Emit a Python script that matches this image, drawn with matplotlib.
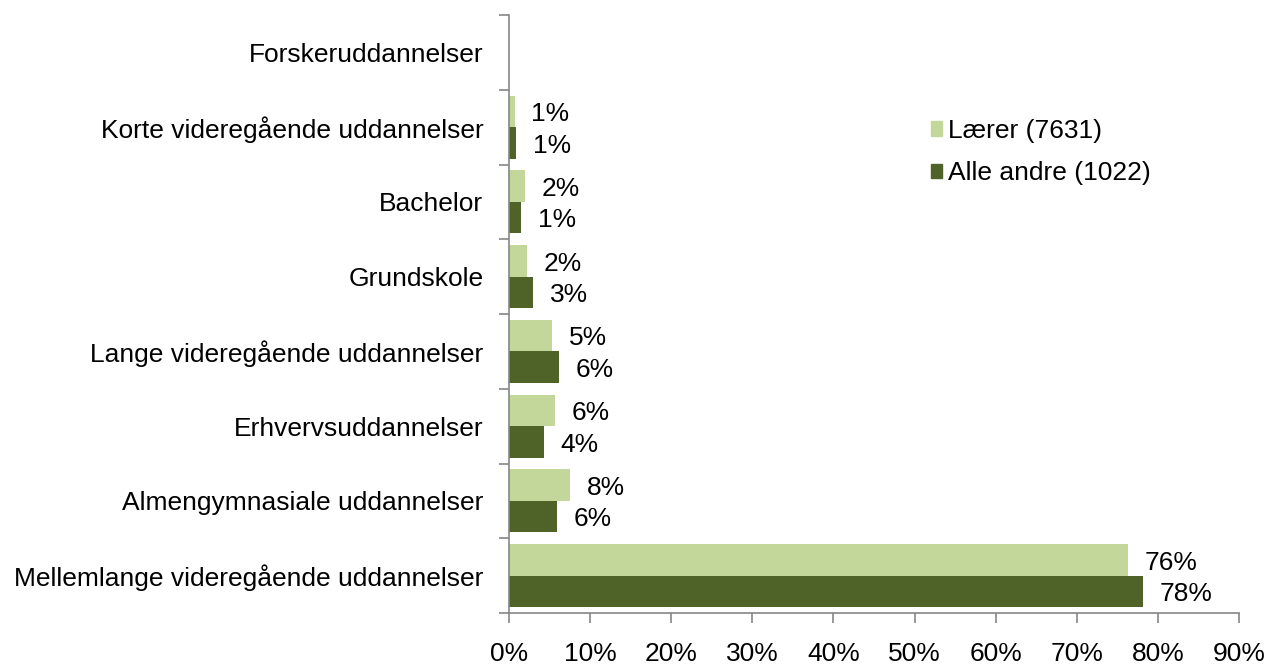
import matplotlib
matplotlib.use("Agg")
import matplotlib.pyplot as plt
import numpy as np
from matplotlib.patches import Patch

plt.rcParams['font.family'] = ['Liberation Sans', 'DejaVu Sans']

categories = ["Mellemlange videregående uddannelser",
              "Almengymnasiale uddannelser",
              "Erhvervsuddannelser",
              "Lange videregående uddannelser",
              "Grundskole",
              "Bachelor",
              "Korte videregående uddannelser",
              "Forskeruddannelser"]
laerer = [76.3, 7.5, 5.7, 5.3, 2.2, 2.0, 0.7, 0.0]
andre = [78.2, 5.9, 4.3, 6.2, 3.0, 1.5, 0.9, 0.0]
laerer_labels = ["76%", "8%", "6%", "5%", "2%", "2%", "1%", None]
andre_labels = ["78%", "6%", "4%", "6%", "3%", "1%", "1%", None]
series_names = ["Lærer (7631)", "Alle andre (1022)"]

c_light = "#c4d79b"
c_dark = "#4f6228"
gray = "#868686"

fig = plt.figure(figsize=(12.66, 6.68), dpi=100)
ax = fig.add_axes([509/1266, 1-613/668, 730/1266, 598/668])

y = np.arange(len(categories))
h = 0.42
ax.barh(y + h/2, laerer, height=h, color=c_light)
ax.barh(y - h/2, andre, height=h, color=c_dark)

fs = 19
for yi, v, lab in zip(y, laerer, laerer_labels):
    if lab:
        ax.annotate(lab, (v, yi + h/2), xytext=(12, -2), textcoords="offset points",
                    ha="left", va="center", fontsize=fs)
for yi, v, lab in zip(y, andre, andre_labels):
    if lab:
        ax.annotate(lab, (v, yi - h/2), xytext=(12, -2), textcoords="offset points",
                    ha="left", va="center", fontsize=fs)

ax.set_xlim(0, 90)
ax.set_ylim(-0.5, len(categories) - 0.5)
ax.set_xticks(np.arange(0, 91, 10))
ax.set_xticklabels([f"{t}%" for t in range(0, 91, 10)], fontsize=fs)
ax.set_yticks(np.arange(-0.5, len(categories), 1.0))
ax.set_yticklabels([])
ax.set_yticks(y, minor=True)
ax.set_yticklabels(categories, minor=True, fontsize=fs)
ax.tick_params(axis="y", which="minor", length=0, pad=18.5)
ax.tick_params(axis="y", which="major", length=7, width=1.2, color=gray, direction="out")
ax.tick_params(axis="x", length=7, width=1.2, color=gray, direction="out", pad=14)

for s in ["top", "right"]:
    ax.spines[s].set_visible(False)
for s in ["left", "bottom"]:
    ax.spines[s].set_color(gray)
    ax.spines[s].set_linewidth(1.2)

handles = [Patch(color=c_light), Patch(color=c_dark)]
ax.legend(handles, series_names, loc="upper left", bbox_to_anchor=(0.545, 0.866),
          frameon=False, fontsize=fs, handlelength=0.45, handleheight=0.45,
          handletextpad=0.2, labelspacing=0.7)

fig.savefig("out.png", dpi=100)
